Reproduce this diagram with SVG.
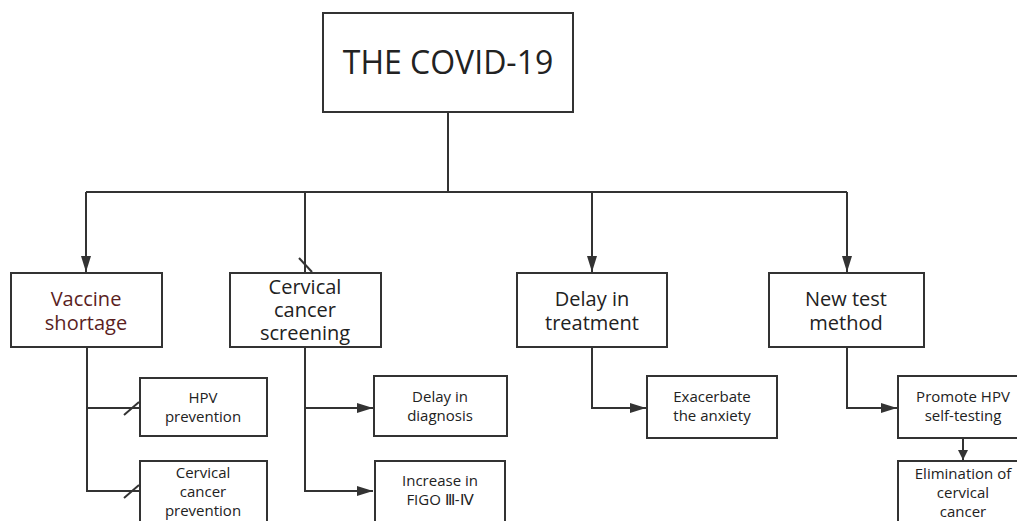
<svg xmlns="http://www.w3.org/2000/svg" width="1017" height="521" viewBox="0 0 1017 521">
<defs>
<marker id="arr" viewBox="0 0 10 10" refX="10" refY="5" markerWidth="10" markerHeight="10" markerUnits="userSpaceOnUse" orient="auto">
<path d="M0,0 L10,5 L0,10 Z" fill="#333"/>
</marker>
<marker id="arrL" viewBox="0 0 16 10" refX="16" refY="5" markerWidth="16" markerHeight="10" markerUnits="userSpaceOnUse" orient="auto">
<path d="M0,0 L16,5 L0,10 Z" fill="#333"/>
</marker>
</defs>
<style>
.box{fill:#fff;stroke:#333;stroke-width:2}
.ln{fill:none;stroke:#333;stroke-width:2}
.t{font-family:"Open Sans","Noto Sans",sans-serif;text-anchor:middle;fill:#222}
.big{font-size:32px}
.mid{font-size:20px}
.sm{font-size:15px}
.red{fill:#5a1e1e}
</style>
<rect width="1017" height="521" fill="#fff"/>
<g id="connectors">
<path class="ln" d="M448,112 V192 M86,192 H847"/>
<path class="ln" d="M86,192 V272" marker-end="url(#arrL)"/>
<path class="ln" d="M305,192 V272"/>
<path class="ln" d="M299,258 L312,272"/>
<path class="ln" d="M592,192 V272" marker-end="url(#arrL)"/>
<path class="ln" d="M847,192 V272" marker-end="url(#arrL)"/>
<path class="ln" d="M87,347 V491 H140 M87,408 H140"/>
<path class="ln" d="M124,415 L139,402 M124,498 L139,485"/>
<path class="ln" d="M305,347 V491 H373" marker-end="url(#arrL)"/>
<path class="ln" d="M305,408 H373" marker-end="url(#arrL)"/>
<path class="ln" d="M592,347 V408 H646" marker-end="url(#arrL)"/>
<path class="ln" d="M847,347 V408 H897" marker-end="url(#arrL)"/>
<path class="ln" d="M963,438 V460" marker-end="url(#arr)"/>
</g>
<g id="covid"><rect class="box" x="323" y="13" width="250" height="99"/><text class="t big" x="448" y="74">THE COVID-19</text></g>
<g id="vaccine"><rect class="box" x="11" y="273" width="151" height="74"/><text class="t mid red"><tspan x="86" y="306">Vaccine</tspan><tspan x="86" y="330">shortage</tspan></text></g>
<g id="screening"><rect class="box" x="230" y="273" width="151" height="74"/><text class="t mid"><tspan x="305" y="294">Cervical</tspan><tspan x="305" y="317">cancer</tspan><tspan x="305" y="340">screening</tspan></text></g>
<g id="treatment"><rect class="box" x="517" y="273" width="150" height="74"/><text class="t mid"><tspan x="592" y="306">Delay in</tspan><tspan x="592" y="330">treatment</tspan></text></g>
<g id="newtest"><rect class="box" x="769" y="273" width="155" height="74"/><text class="t mid"><tspan x="846" y="306">New test</tspan><tspan x="846" y="330">method</tspan></text></g>
<g id="hpvprev"><rect class="box" x="140" y="378" width="127" height="58"/><text class="t sm"><tspan x="203" y="403">HPV</tspan><tspan x="203" y="422">prevention</tspan></text></g>
<g id="ccprev"><rect class="box" x="140" y="461" width="127" height="62"/><text class="t sm"><tspan x="203" y="478">Cervical</tspan><tspan x="203" y="497">cancer</tspan><tspan x="203" y="516">prevention</tspan></text></g>
<g id="diag"><rect class="box" x="374" y="376" width="133" height="60"/><text class="t sm"><tspan x="440" y="402">Delay in</tspan><tspan x="440" y="421">diagnosis</tspan></text></g>
<g id="figo"><rect class="box" x="375" y="461" width="130" height="62"/><text class="t sm"><tspan x="440" y="486">Increase in</tspan><tspan x="440" y="505">FIGO Ⅲ-Ⅳ</tspan></text></g>
<g id="anxiety"><rect class="box" x="647" y="376" width="130" height="62"/><text class="t sm"><tspan x="712" y="402">Exacerbate</tspan><tspan x="712" y="421">the anxiety</tspan></text></g>
<g id="selftest"><rect class="box" x="898" y="376" width="125" height="62"/><text class="t sm"><tspan x="963" y="402">Promote HPV</tspan><tspan x="963" y="421">self-testing</tspan></text></g>
<g id="elim"><rect class="box" x="898" y="461" width="125" height="62"/><text class="t sm"><tspan x="963" y="479">Elimination of</tspan><tspan x="963" y="498">cervical</tspan><tspan x="963" y="517">cancer</tspan></text></g>
</svg>
